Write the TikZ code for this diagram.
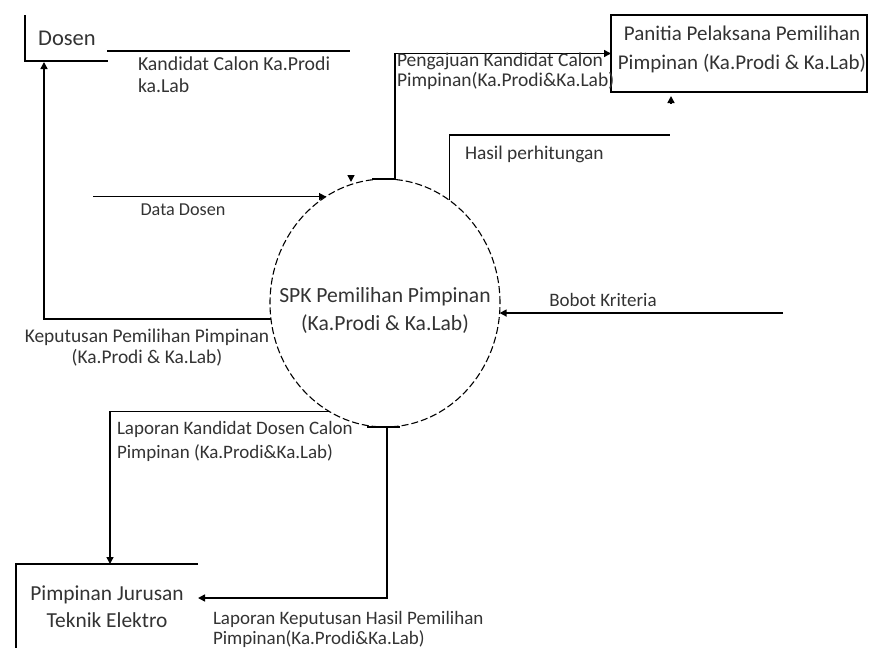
\documentclass[tikz,border=0pt]{standalone}
\usepackage{fontspec}
\setmainfont{Carlito}
\usetikzlibrary{arrows.meta,shapes.geometric,calc}
\begin{document}
\begin{tikzpicture}[x=1pt,y=-1pt,
  flow/.style={line width=1.5pt, draw=black},
  tip/.style={-{Triangle[length=7pt,width=7pt]}},
  lbl/.style={inner sep=0pt, outer sep=0pt, text=black!80},
  fs/.style 2 args={font=\fontsize{#1}{#2}\selectfont},
  proc/.style={ellipse, draw=black, line width=1.1pt, dash pattern=on 7pt off 3pt,
    minimum width=230pt, minimum height=248pt, inner sep=0pt, outer sep=0pt},
  extbox/.style={draw=black, line width=1.5pt, minimum width=256pt, minimum height=77pt,
    inner sep=0pt, outer sep=0pt}
]
\useasboundingbox (0,0) rectangle (870,648);

% process
\node[proc] (spk) at (385,303) {};
\node[lbl, fs={21.6}{28}, align=center] (spktxt) at (385,310) {SPK Pemilihan Pimpinan\\(Ka.Prodi \& Ka.Lab)};

% Dosen (open box)
\node[lbl, fs={22.5}{26}] (dosen) at (67,38) {Dosen};
\coordinate (dtl) at (25,15);
\coordinate (dbl) at (25,61);
\coordinate (dbr) at (108,61);
\draw[flow] (dtl) -- (dbl) -- (dbr);

% Panitia box
\node[extbox] (pan) at (739,53.5) {};
\node[lbl, fs={21}{29}, align=center] (pantxt) at (742,49) {Panitia Pelaksana Pemilihan\\Pimpinan (Ka.Prodi \& Ka.Lab)};

% Pimpinan Jurusan (open box)
\node[lbl, fs={21.4}{27}, align=center] (pj) at (107,607) {Pimpinan Jurusan\\Teknik Elektro};
\coordinate (pjtr) at (198,564);
\coordinate (pjtl) at (16,564);
\coordinate (pjbl) at (16,648);
\draw[flow] (pjtr) -- (pjtl) -- (pjbl);

% Kandidat Calon Ka.Prodi ka.Lab
\coordinate (kc1) at (107,51);
\coordinate (kc2) at (350,51);
\draw[flow] (kc1) -- (kc2);
\node[lbl, fs={19.8}{22}, align=left, anchor=west] (kctxt) at (138,75) {Kandidat Calon Ka.Prodi\\ka.Lab};

% Data Dosen
\coordinate (ddstart) at (93,0);
\draw[flow,tip] (spk.119.4 -| ddstart) -- (spk.119.4);
\node[lbl, fs={18.2}{22}] (ddtxt) at (183,210) {Data Dosen};

% dangling arrow tips
\coordinate (dt1) at (351,175);
\coordinate (dt2) at (351,182);
\draw[flow,tip] (dt1) -- (dt2);
\coordinate (ut1) at (671,104);
\coordinate (ut2) at (671,96);
\draw[flow,tip] (ut1) -- (ut2);

% Pengajuan
\draw[flow,tip] ($(spk.north)+(-13,0)$) -- ($(spk.north)+(10,0)$) |- (pan.west);
\node[lbl, fs={19.5}{20}, align=left, anchor=west] (pgtxt) at (397,71) {Pengajuan Kandidat Calon\\Pimpinan(Ka.Prodi\&Ka.Lab)};

% Hasil perhitungan
\coordinate (hpend) at (670,135);
\draw[flow] (spk.58.1) |- (hpend);
\node[lbl, fs={19.4}{22}, anchor=west] (hptxt) at (465,154) {Hasil perhitungan};

% Bobot Kriteria
\coordinate (bbstart) at (783,0);
\draw[flow,tip] (spk.355.5 -| bbstart) -- (spk.355.5);
\node[lbl, fs={19}{22}] (bbtxt) at (603,300) {Bobot Kriteria};

% Keputusan
\coordinate (dosenin) at (44,62);
\draw[flow,tip] (spk.188) -| (dosenin);
\node[lbl, fs={19.4}{21}, align=center] (kptxt) at (147,348) {Keputusan Pemilihan Pimpinan\\(Ka.Prodi \& Ka.Lab)};

% Laporan Kandidat
\coordinate (pjtop) at (110,564);
\draw[flow,tip] (spk.243.3) -| (pjtop);
\node[lbl, fs={19}{24}, align=left, anchor=west] (lktxt) at (117,441) {Laporan Kandidat Dosen Calon\\Pimpinan (Ka.Prodi\&Ka.Lab)};

% Laporan Keputusan
\draw[flow] ($(spk.south)+(-18,0)$) -- ($(spk.south)+(15,0)$);
\coordinate (pjin) at (198,598);
\draw[flow,tip] ($(spk.south)+(2,0)$) |- (pjin);
\node[lbl, fs={19}{20}, align=left, anchor=west] (lptxt) at (213,629) {Laporan Keputusan Hasil Pemilihan\\Pimpinan(Ka.Prodi\&Ka.Lab)};
\end{tikzpicture}
\end{document}
